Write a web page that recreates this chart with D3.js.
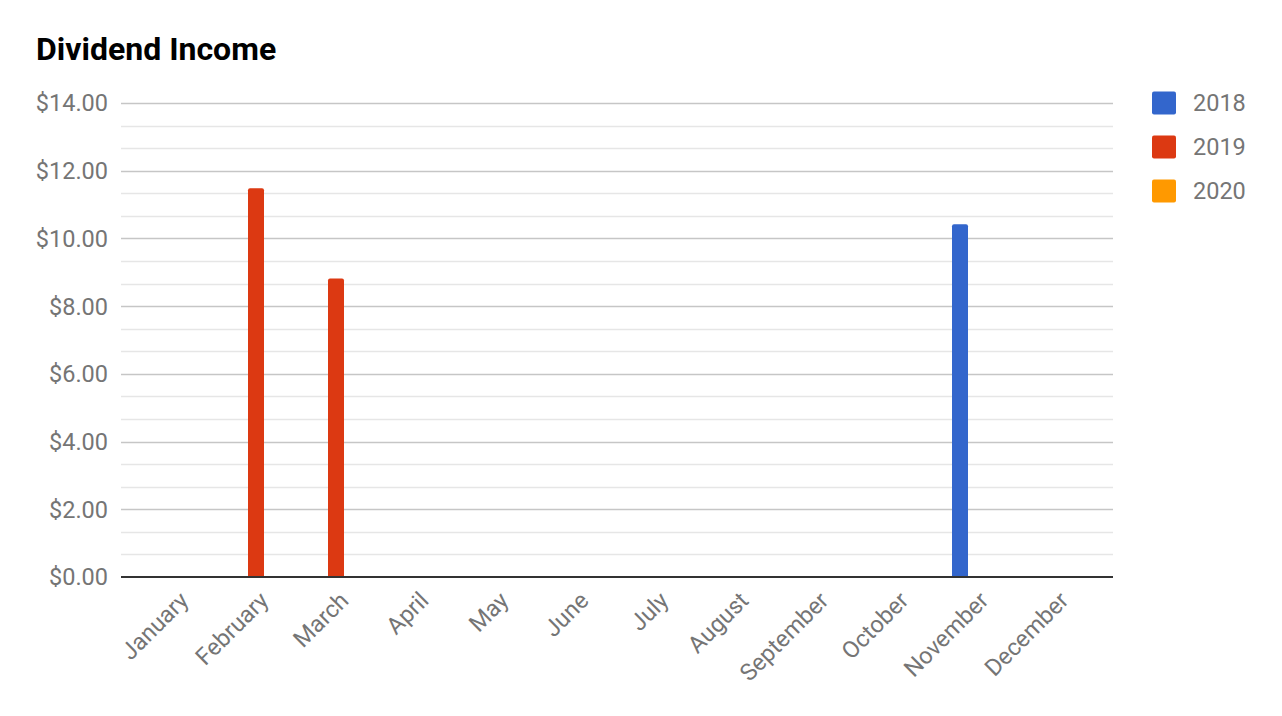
<!DOCTYPE html>
<html><head><meta charset="utf-8">
<script src="https://cdn.jsdelivr.net/npm/d3@7"></script>
<style>body{margin:0;background:#fff;} svg{display:block;font-family:Roboto,"Noto Sans",sans-serif;}</style>
</head><body>
<svg id="chart" width="1282" height="716"></svg>
<script>
const months = ["January","February","March","April","May","June","July","August","September","October","November","December"];
const seriesNames = ["2018","2019","2020"];
const values2018 = [0,0,0,0,0,0,0,0,0,0,10.42,0];
const values2019 = [0,11.48,8.82,0,0,0,0,0,0,0,0,0];
const values2020 = [0,0,0,0,0,0,0,0,0,0,0,0];
const yTicks = [0,2,4,6,8,10,12,14];
const colors = ["#3366cc","#dc3912","#ff9900"];

const seriesValues = [values2018, values2019, values2020];
const svg = d3.select("#chart");
const W = 1282, H = 716;
svg.append("rect").attr("width",W).attr("height",H).attr("fill","#fff");

const plotL = 121, plotR = 1113, plotT = 103, plotB = 577;
const y = d3.scaleLinear().domain([0,14]).range([plotB, plotT]);
const x = d3.scaleBand().domain(months).range([plotL+15, plotR-17]);
const xs = d3.scaleBand().domain(seriesNames).range([-24, 24]);

// title
svg.append("text").attr("x",36).attr("y",60).attr("font-size",32).attr("font-weight","bold").attr("fill","#000").text("Dividend Income");

// minor gridlines
const minor = d3.range(0,21).filter(i=>i%3!==0).map(i=>i*2/3);
svg.append("g").selectAll("line").data(minor).join("line")
  .attr("x1",plotL).attr("x2",plotR)
  .attr("y1",d=>Math.round(y(d))+0.5).attr("y2",d=>Math.round(y(d))+0.5)
  .attr("stroke","#e6e6e6").attr("stroke-width",1.5);
// major gridlines
svg.append("g").selectAll("line").data(yTicks.filter(d=>d>0)).join("line")
  .attr("x1",plotL).attr("x2",plotR)
  .attr("y1",d=>Math.round(y(d))+0.5).attr("y2",d=>Math.round(y(d))+0.5)
  .attr("stroke","#c6c6c6").attr("stroke-width",1.5);

// y labels
svg.append("g").selectAll("text").data(yTicks).join("text")
  .attr("x",108).attr("y",d=>y(d)).attr("dy","0.36em")
  .attr("text-anchor","end").attr("font-size",23.5).attr("fill","#757575")
  .text(d=>"$"+d.toFixed(2));

// bars
const bars = [];
seriesValues.forEach((vals,si)=>vals.forEach((v,mi)=>{ if(v>0) bars.push({m:months[mi], s:seriesNames[si], v, c:colors[si]}); }));
svg.append("g").selectAll("path").data(bars).join("path")
  .attr("fill",d=>d.c)
  .attr("d",d=>{
    const x0 = x(d.m)+x.bandwidth()/2+xs(d.s), w = xs.bandwidth();
    const y0 = y(d.v), y1 = y(0), r = 2;
    return `M${x0},${y1}V${y0+r}Q${x0},${y0} ${x0+r},${y0}H${x0+w-r}Q${x0+w},${y0} ${x0+w},${y0+r}V${y1}Z`;
  });

// baseline
svg.append("line").attr("x1",plotL).attr("x2",plotR).attr("y1",y(0)).attr("y2",y(0))
  .attr("stroke","#333").attr("stroke-width",2);

// x labels
svg.append("g").selectAll("text").data(months).join("text")
  .attr("transform",d=>`translate(${x(d)+x.bandwidth()/2+8},${y(0)+19}) rotate(-45)`)
  .attr("text-anchor","end").attr("dy","0.36em")
  .attr("font-size",23.5).attr("fill","#757575").text(d=>d);

// legend
const lg = svg.append("g").selectAll("g").data(seriesNames).join("g")
  .attr("transform",(d,i)=>`translate(1152,${103+i*44})`);
lg.append("rect").attr("x",0).attr("y",-11.5).attr("width",24).attr("height",23).attr("rx",2)
  .attr("fill",(d,i)=>colors[i]);
lg.append("text").attr("x",41).attr("y",0).attr("dy","0.36em").attr("font-size",23.5).attr("fill","#757575").text(d=>d);
</script>
</body></html>
